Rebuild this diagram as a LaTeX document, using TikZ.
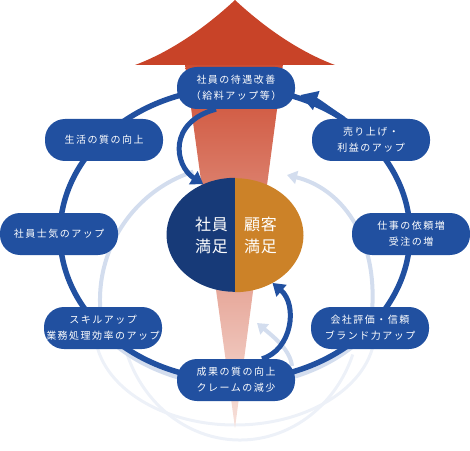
\documentclass[tikz,border=0pt]{standalone}
\usepackage{fontspec}
\newfontfamily\jpfont[LetterSpace=15]{Noto Sans CJK JP}
\newfontfamily\jpbig[LetterSpace=4]{Noto Sans CJK JP}
\usetikzlibrary{arrows.meta,positioning,shapes.geometric}
\definecolor{ringblue}{HTML}{2150A0}
\definecolor{navy}{HTML}{173A78}
\definecolor{amber}{HTML}{CC8228}
\definecolor{upred}{HTML}{C84328}
\definecolor{shafttop}{HTML}{CD4C32}
\definecolor{shaftbot}{HTML}{F7E1DB}
\definecolor{paleblue}{HTML}{D3DDEE}
\definecolor{faintblue}{HTML}{EDF1F8}

\begin{document}
\begin{tikzpicture}[x=1pt,y=1pt]
\tikzstyle{stage}=[fill=ringblue, text=white, rounded corners=20pt, minimum width=118pt, minimum height=42pt, inner sep=0pt, align=center, font=\jpfont\fontsize{10}{16}\selectfont]
\tikzstyle{ring}=[draw=ringblue, line width=5.5pt]
\tikzstyle{feedback}=[draw=ringblue, line width=5pt, -{Triangle[length=12pt,width=15pt]}]
\tikzstyle{pale}=[draw=paleblue, line width=4pt]
\tikzstyle{faint}=[draw=faintblue, line width=3pt]
\tikzstyle{ctxt}=[text=white, inner sep=0pt, align=center, font=\jpbig\fontsize{16}{22}\selectfont]
\useasboundingbox (0,0) rectangle (470,450);

% pale swirls behind everything
\draw[faint] (235,120) ++(180:140 and 95) arc[start angle=180, end angle=360, x radius=140, y radius=95];
\draw[faint] (240,140) ++(200:120 and 130) arc[start angle=200, end angle=340, x radius=120, y radius=130];
\draw[pale, line width=5pt] (235,205) ++(212:170 and 140) arc[start angle=212, end angle=332, x radius=170, y radius=140];
\draw[pale] (235,150) ++(190:135) arc[start angle=190, end angle=108, radius=135];
\draw[pale, -{Triangle[length=10pt,width=13pt]}] (372,138) .. controls (378,215) and (340,262) .. (287,275);
\draw[pale, -{Triangle[length=10pt,width=13pt]}] (292,84) .. controls (290,100) and (275,112) .. (257,127);

% the big arrow
\shade[top color=shafttop, bottom color=shaftbot] (185,386) -- (283,386) -- (235,22) -- cycle;
\fill[upred] (235,450) .. controls (205,422) and (170,398) .. (135,385) -- (335,385)
  .. controls (300,398) and (265,422) .. (235,450) -- cycle;

% the ring
\draw[ring] (235,216) ellipse [x radius=175, y radius=146];

% centre
\node[ellipse, minimum width=137pt, minimum height=114pt, inner sep=0pt] (c) at (235,215) {};
\fill[navy] (c.north) arc[start angle=90, end angle=270, x radius=68.5, y radius=57] -- cycle;
\fill[amber] (c.south) arc[start angle=-90, end angle=90, x radius=68.5, y radius=57] -- cycle;
\node[ctxt, left=7pt of c.center] (emp) {社員\\満足};
\node[ctxt, right=9pt of c.center] (cust) {顧客\\満足};

% stages round the ring
\node[stage] (top) at (236,362) {社員の待遇改善\\（給料アップ等）};
\node[stage] (life) at (104,310) {生活の質の向上};
\node[stage] (morale) at (59,216) {社員士気のアップ};
\node[stage] (skill) at (103,122) {スキルアップ\\業務処理効率のアップ};
\node[stage] (quality) at (236,70) {成果の質の向上\\クレームの減少};
\node[stage] (reput) at (370,122) {会社評価・信頼\\ブランド力アップ};
\node[stage] (orders) at (411,216) {仕事の依頼増\\受注の増};
\node[stage] (sales) at (371,310) {売り上げ・\\利益のアップ};

\draw[ring, -{Triangle[length=17pt,width=19pt]}] ([xshift=-28pt]sales.north) to[out=147, in=-19] ([shift={(5pt,-7pt)}]top.east);
\draw[feedback] ([xshift=-20pt]top.south) .. controls (168,328) and (174,285) .. (c.122);
\draw[feedback] ([xshift=26pt]quality.north) .. controls (292,100) and (298,145) .. (c.-52);
\end{tikzpicture}
\end{document}
